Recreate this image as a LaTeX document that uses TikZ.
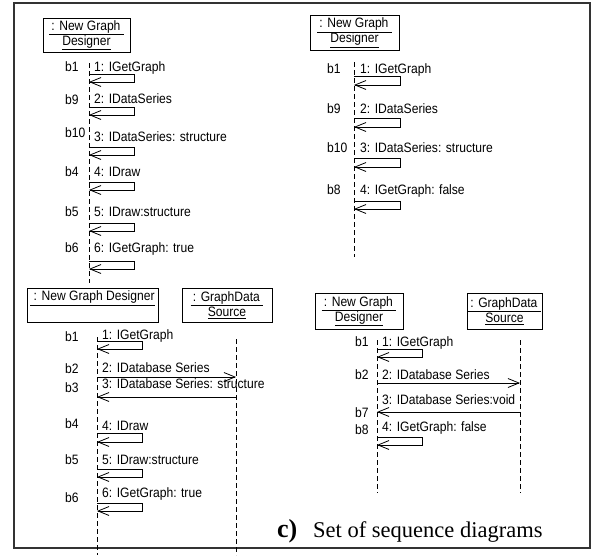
\documentclass[tikz,border=0pt]{standalone}
\usepackage{fontspec}
\setmainfont[FakeStretch=0.89]{Liberation Sans}
\newfontfamily\capfont{Liberation Serif}
\usetikzlibrary{arrows.meta}
\newcommand\selfloop[4]{\draw[msg] (#1,#2) -- (#4,#2) -- (#4,#3) -- (#1,#3);}
\begin{document}
\begin{tikzpicture}[x=1pt,y=-1pt,
  font=\fontsize{13.6}{15}\selectfont,
  lbl/.style={inner sep=0pt,text height=9.7pt,text depth=0pt,anchor=west},
  objbox/.style={draw,line width=0.8pt,inner sep=0pt,align=center},
  life/.style={line width=0.8pt,dash pattern=on 5pt off 3pt},
  msg/.style={line width=0.8pt,-{Straight Barb[length=11pt,width=9pt]}},
  frame/.style={line width=1.2pt,black!80}]
\useasboundingbox (0,0) rectangle (599,555);
\draw[frame] (14,3) rectangle (590,548);

% ---------- top-left ----------
\node[objbox,minimum width=87pt,minimum height=34pt] (A) at (86.5,35)
  {\underline{\,: New Graph\ }\\[0pt]\underline{Designer}};
\coordinate (At) at (89,63); \coordinate (Ab) at (89,283);
\draw[life] (At) -- (Ab);
\foreach \t/\y in {b1/67,b9/100,b10/133,b4/172,b5/212,b6/248}
  \node[lbl] at (65,\y) {\t};
\node[lbl] (a1) at (94,67) {1: IGetGraph};
\node[lbl] (a2) at (94,99) {2: IDataSeries};
\node[lbl] (a3) at (94,137) {3: IDataSeries: structure};
\node[lbl] (a4) at (94,172) {4: IDraw};
\node[lbl] (a5) at (94,212) {5: IDraw:structure};
\node[lbl] (a6) at (94,248) {6: IGetGraph: true};
\selfloop{89}{74}{82}{134}
\selfloop{89}{107}{115}{134}
\selfloop{89}{147}{155}{134}
\selfloop{89}{182}{190}{134}
\selfloop{89}{223}{231}{134}
\selfloop{89}{261}{269}{134}

% ---------- top-right ----------
\node[objbox,minimum width=89pt,minimum height=35pt] (B) at (354.5,32.5)
  {\underline{\,: New Graph\ }\\[0pt]\underline{Designer}};
\coordinate (Bt) at (354,62); \coordinate (Bb) at (354,257);
\draw[life] (Bt) -- (Bb);
\foreach \t/\y in {b1/69,b9/109,b10/148,b8/190}
  \node[lbl] at (327,\y) {\t};
\node[lbl] (b1m) at (360,69) {1: IGetGraph};
\node[lbl] (b2m) at (360,109) {2: IDataSeries};
\node[lbl] (b3m) at (360,148) {3: IDataSeries: structure};
\node[lbl] (b4m) at (360,190) {4: IGetGraph: false};
\selfloop{354}{76}{85}{400}
\selfloop{354}{118}{127}{400}
\selfloop{354}{158}{167}{400}
\selfloop{354}{201}{209}{400}

% ---------- bottom-left ----------
\node[objbox,minimum width=131pt,minimum height=34pt] (C1) at (92.5,305) {};
\node[inner sep=0pt,anchor=north] at ([yshift=-3pt]C1.north) {\underline{\ : New Graph Designer}};
\node[objbox,minimum width=90pt,minimum height=34pt] (C2) at (227,305)
  {\underline{\,: GraphData\ }\\[0pt]\underline{Source}};
\coordinate (C1t) at (97,337); \coordinate (C1b) at (97,555);
\coordinate (C2t) at (236,339); \coordinate (C2b) at (236,555);
\draw[life] (C1t) -- (C1b);
\draw[life] (C2t) -- (C2b);
\foreach \t/\y in {b1/337,b2/369,b3/388,b4/424,b5/460,b6/498}
  \node[lbl] at (65,\y) {\t};
\node[lbl] at (102,335) {1: IGetGraph};
\node[lbl] at (102,368) {2: IDatabase Series};
\node[lbl] at (102,384) {3: IDatabase Series: structure};
\node[lbl] at (102,426) {4: IDraw};
\node[lbl] at (102,460) {5: IDraw:structure};
\node[lbl] at (102,493) {6: IGetGraph: true};
\selfloop{97}{341}{349}{142}
\draw[msg] (97,377) -- (236,377);
\draw[msg] (236,397) -- (97,397);
\selfloop{97}{433}{442}{142}
\selfloop{97}{469}{477}{142}
\selfloop{97}{503}{511}{142}

% ---------- bottom-right ----------
\node[objbox,minimum width=88pt,minimum height=36pt] (D1) at (359,311)
  {\underline{\,: New Graph\ }\\[0pt]\underline{Designer}};
\node[objbox,minimum width=75pt,minimum height=36pt] (D2) at (504.5,311)
  {\underline{\,: GraphData\ }\\[0pt]\underline{Source}};
\coordinate (D1t) at (377,340); \coordinate (D1b) at (377,493);
\coordinate (D2t) at (520,340); \coordinate (D2b) at (520,493);
\draw[life] (D1t) -- (D1b);
\draw[life] (D2t) -- (D2b);
\foreach \t/\y in {b1/342,b2/375,b7/413,b8/430}
  \node[lbl] at (355,\y) {\t};
\node[lbl] at (382,342) {1: IGetGraph};
\node[lbl] at (382,375) {2: IDatabase Series};
\node[lbl] at (382,400) {3: IDatabase Series:void};
\node[lbl] at (382,427) {4: IGetGraph: false};
\selfloop{377}{349}{357}{422}
\draw[msg] (377,383) -- (520,383);
\draw[msg] (520,412) -- (377,412);
\selfloop{377}{437}{445}{422}

% ---------- caption ----------
\node[inner sep=0pt,anchor=base west] (cl) at (277,537)
  {\capfont\fontsize{26}{28}\selectfont\bfseries c)};
\node[inner sep=0pt,anchor=base west] (ct) at (313,537)
  {\capfont\fontsize{22.5}{26}\selectfont Set of sequence diagrams};
\end{tikzpicture}
\end{document}
